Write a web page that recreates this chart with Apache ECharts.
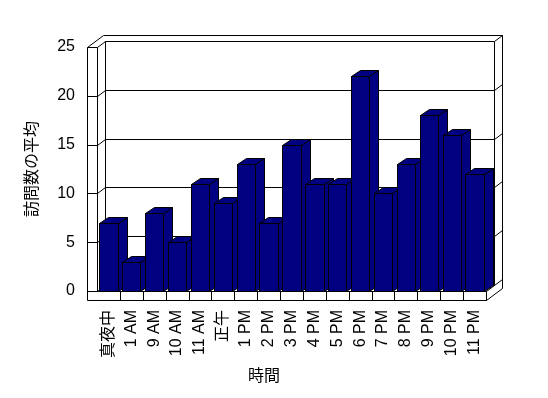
<!DOCTYPE html>
<html lang="ja">
<head>
<meta charset="UTF-8">
<title>訪問数の平均</title>
<script src="https://cdn.jsdelivr.net/npm/echarts@6/dist/echarts.min.js"></script>
</head>
<body style="margin:0;background:#fff">
<div id="main" style="width:548px;height:398px"></div>
<script>
    let hours = ['真夜中', '1 AM', '9 AM', '10 AM', '11 AM', '正午', '1 PM', '2 PM', '3 PM', '4 PM', '5 PM', '6 PM', '7 PM', '8 PM', '9 PM', '10 PM', '11 PM'];
    let visits = [7, 3, 8, 5, 11, 9, 13, 7, 15, 11, 11, 22, 10, 13, 18, 16, 12];
    let yTicks = [0, 5, 10, 15, 20, 25];

    let font = "'Liberation Sans', 'Noto Sans CJK JP', sans-serif";
    let wallDx = 8, wallDy = 6;   // depth of walls / floor
    let barDx = 9, barDy = 6;     // depth of bars
    let wallW = 10, floorH = 9;
    let navy = '#000080';

    function p(v) { return Math.round(v) + 0.5; }
    function ln(x1, y1, x2, y2) {
        return {
            type: 'line',
            shape: { x1: p(x1), y1: p(y1), x2: p(x2), y2: p(y2) },
            style: { stroke: '#000', lineWidth: 1 }
        };
    }

    // 3D box: left wall, back wall and floor
    function renderBox(params, api) {
        let cs = params.coordSys;
        let x0 = cs.x, x1 = cs.x + cs.width;
        let top = api.coord([0, yTicks[yTicks.length - 1]])[1];
        let base = api.coord([0, 0])[1];
        let L = x0 - wallW, FB = base + floorH;
        let children = [];
        // outer silhouette
        children.push({
            type: 'polygon',
            shape: { points: [[p(L), p(top)], [p(L + 2 * wallDx), p(top - 2 * wallDy)], [p(x1 + 2 * wallDx), p(top - 2 * wallDy)],
                [p(x1 + 2 * wallDx), p(FB - 2 * wallDy)], [p(x1), p(FB)], [p(L), p(FB)]] },
            style: { fill: '#fff', stroke: '#000', lineWidth: 1 }
        });
        // left wall front face
        children.push(ln(x0, top, x0, base));
        // back wall edges
        children.push(ln(x0 + wallDx, top - wallDy, x0 + wallDx, base - wallDy));
        children.push(ln(x1 + wallDx, top - wallDy, x1 + wallDx, base - wallDy));
        // floor
        children.push(ln(x0, base, x1, base));
        children.push(ln(x1, base, x1, FB));
        children.push(ln(x1, base, x1 + wallDx, base - wallDy));
        // grid lines across left wall, back wall and right edge
        yTicks.forEach(function(v) {
            let y = api.coord([0, v])[1];
            children.push(ln(L, y, x0, y));
            children.push(ln(x0, y, x0 + wallDx, y - wallDy));
            children.push(ln(x0 + wallDx, y - wallDy, x1 + wallDx, y - wallDy));
            children.push(ln(x1 + wallDx, y - wallDy, x1 + 2 * wallDx, y - 2 * wallDy));
        });
        // category ticks on floor front
        let w = cs.width / hours.length;
        for (let k = 1; k < hours.length; k++) {
            children.push(ln(x0 + k * w, base, x0 + k * w, FB));
        }
        return { type: 'group', children: children };
    }

    function renderBar(params, api) {
        let idx = api.value(0);
        let topPt = api.coord([idx, api.value(1)]);
        let basePt = api.coord([idx, 0]);
        let bw = api.size([1, 0])[0] * 0.8;
        let xl = p(topPt[0] - bw / 2), xr = p(topPt[0] + bw / 2);
        let yt = p(topPt[1]), yb = p(basePt[1]);
        let st = { fill: navy, stroke: '#000', lineWidth: 1 };
        return {
            type: 'group',
            children: [
                { type: 'polygon', shape: { points: [[xr, yt], [xr + barDx, yt - barDy], [xr + barDx, yb - barDy], [xr, yb]] }, style: st },
                { type: 'polygon', shape: { points: [[xl, yt], [xr, yt], [xr + barDx, yt - barDy], [xl + barDx, yt - barDy]] }, style: st },
                { type: 'rect', shape: { x: xl, y: yt, width: xr - xl, height: yb - yt }, style: st }
            ]
        };
    }

    let myChart = echarts.init(document.getElementById('main'));
    myChart.setOption({
        animation: false,
        backgroundColor: '#fff',
        textStyle: { fontFamily: font },
        grid: { left: 97, right: 62, top: 47, bottom: 107 },
        xAxis: {
            type: 'category',
            data: hours,
            axisLine: { show: false },
            axisTick: { show: false },
            axisLabel: { interval: 0, rotate: 90, margin: 19, fontSize: 16, color: '#000', fontFamily: font }
        },
        yAxis: {
            type: 'value',
            min: 0,
            max: 25,
            interval: 5,
            name: '訪問数の平均',
            nameLocation: 'middle',
            nameGap: 56,
            nameTextStyle: { fontSize: 16, color: '#000', fontFamily: font },
            axisLine: { show: false },
            axisTick: { show: false },
            splitLine: { show: false },
            axisLabel: { margin: 22, fontSize: 16, color: '#000', fontFamily: font }
        },
        graphic: [{
            type: 'text',
            left: 248,
            top: 369,
            style: { text: '時間', fontSize: 16, fill: '#000', fontFamily: font }
        }],
        series: [{
            type: 'custom',
            z: 1,
            clip: false,
            silent: true,
            renderItem: renderBox,
            data: [[0, 0]]
        }, {
            type: 'custom',
            z: 2,
            clip: false,
            renderItem: renderBar,
            encode: { x: 0, y: 1 },
            data: visits.map(function(v, i) { return [i, v]; })
        }]
    });
</script>
</body>
</html>
